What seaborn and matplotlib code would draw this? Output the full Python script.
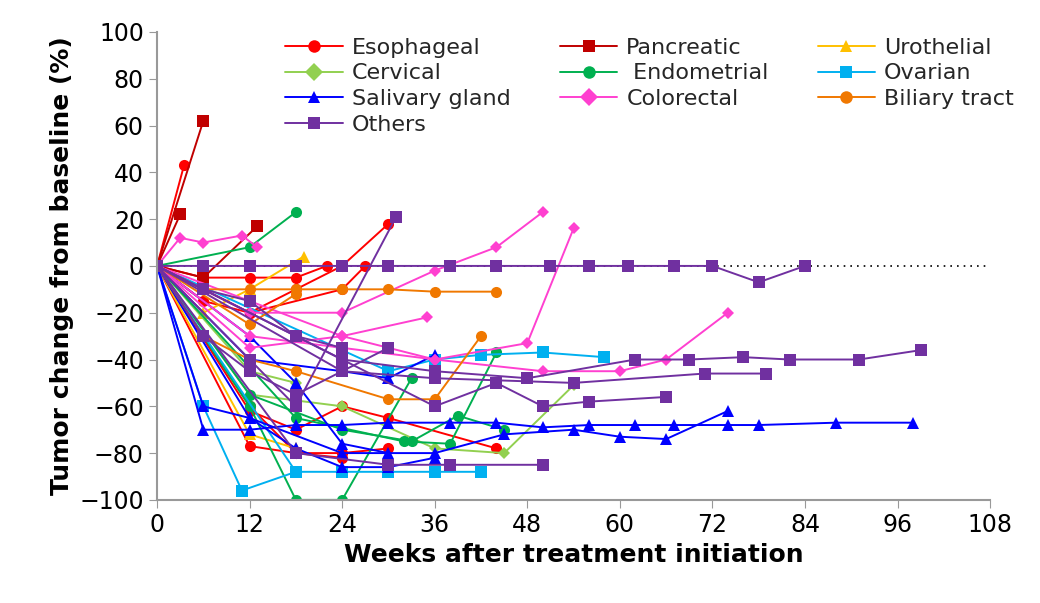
import matplotlib
matplotlib.use("Agg")
import matplotlib.pyplot as plt
import seaborn as sns
import pandas as pd
from matplotlib.lines import Line2D

categories = ["Esophageal", "Pancreatic", "Urothelial", "Cervical", "Endometrial",
              "Ovarian", "Salivary gland", "Colorectal", "Biliary tract", "Others"]
colors = {"Esophageal": "#ff0000", "Pancreatic": "#c00000", "Urothelial": "#ffc000",
          "Cervical": "#92d050", "Endometrial": "#00b050", "Ovarian": "#00b0f0",
          "Salivary gland": "#0000ff", "Colorectal": "#ff40d0", "Biliary tract": "#f07800",
          "Others": "#7030a0"}
markers = {"Esophageal": "o", "Pancreatic": "s", "Urothelial": "^", "Cervical": "D",
           "Endometrial": "o", "Ovarian": "s", "Salivary gland": "^", "Colorectal": "D",
           "Biliary tract": "o", "Others": "s"}

esophageal = [([0, 3.5], [0, 43]),
              ([0, 6, 12, 18, 22], [0, -5, -5, -5, 0]),
              ([0, 12, 18, 24, 30], [0, -20, -10, 0, 18]),
              ([0, 12, 18, 24, 30], [0, -60, -80, -80, -78]),
              ([0, 12, 18, 24, 30, 44], [0, -62, -70, -60, -65, -78]),
              ([0, 6, 12, 24, 27], [0, -15, -20, -10, 0]),
              ([0, 12, 18, 24], [0, -77, -80, -82])]
pancreatic = [([0, 6], [0, 62]), ([0, 3], [0, 22]), ([0, 6, 13], [0, -5, 17])]
urothelial = [([0, 6, 12, 19], [0, -20, -10, 4]), ([0, 12, 18], [0, -72, -78])]
cervical = [([0, 12, 24, 36, 45, 54], [0, -55, -60, -78, -80, -51]),
            ([0, 12, 18], [0, -45, -50])]
endometrial = [([0, 12, 18], [0, 8, 23]),
               ([0, 12, 18, 24, 33], [0, -60, -100, -100, -48]),
               ([0, 12, 24, 33, 39, 45], [0, -55, -70, -75, -64, -70]),
               ([0, 18, 32, 38, 44], [0, -65, -75, -76, -37])]
ovarian = [([0, 6, 11, 18], [0, -60, -96, -88]),
           ([0, 18, 24, 30, 36, 42], [0, -88, -88, -88, -88, -88]),
           ([0, 30, 36, 42, 50, 58], [0, -45, -40, -38, -37, -39])]
salivary = [([0, 6, 12, 18, 24, 30, 38, 44, 50, 56, 62, 67, 74, 78, 88, 98],
             [0, -70, -70, -68, -68, -67, -67, -67, -69, -68, -68, -68, -68, -68, -67, -67]),
            ([0, 12, 24, 36, 45, 54, 60, 66, 74], [0, -65, -80, -80, -72, -70, -73, -74, -62]),
            ([0, 6, 12, 18, 24, 30, 36], [0, -60, -65, -78, -86, -86, -82]),
            ([0, 12, 18, 24, 30], [0, -30, -50, -76, -80]),
            ([0, 12, 24, 30, 36], [0, -40, -45, -48, -38])]
colorectal = [([0, 3, 6, 11, 13], [0, 12, 10, 13, 8]),
              ([0, 12, 24, 36, 44, 50], [0, -20, -20, -2, 8, 23]),
              ([0, 12, 24, 36, 48, 54], [0, -30, -35, -40, -33, 16]),
              ([0, 24, 36, 50, 60, 66, 74], [0, -30, -40, -45, -45, -40, -20]),
              ([0, 12, 24, 35], [0, -35, -30, -22])]
biliary = [([0, 6, 12, 18, 24, 30, 36, 44], [0, -10, -10, -10, -10, -10, -11, -11]),
           ([0, 6, 12, 18, 30, 36, 42], [0, -30, -40, -45, -57, -57, -30]),
           ([0, 12, 18], [0, -25, -12])]
others = [([0, 6, 12, 18, 24, 30, 38, 44, 51, 56, 61, 67, 72, 78, 84],
           [0, 0, 0, 0, 0, 0, 0, 0, 0, 0, 0, 0, 0, -7, 0]),
          ([0, 12, 18, 31], [0, -40, -60, 21]),
          ([0, 24, 36, 48, 62, 69, 76, 82, 91, 99], [0, -40, -45, -48, -40, -40, -39, -40, -40, -36]),
          ([0, 24, 36, 54, 71, 79], [0, -45, -48, -50, -46, -46]),
          ([0, 36, 44, 50, 56, 66], [0, -60, -50, -60, -58, -56]),
          ([0, 18, 30, 38, 50], [0, -80, -85, -85, -85]),
          ([0, 6, 12, 18, 24], [0, -10, -15, -30, -35]),
          ([0, 6, 12, 18, 30], [0, -30, -45, -55, -35])]

series = {"Esophageal": esophageal, "Pancreatic": pancreatic, "Urothelial": urothelial,
          "Cervical": cervical, "Endometrial": endometrial, "Ovarian": ovarian,
          "Salivary gland": salivary, "Colorectal": colorectal, "Biliary tract": biliary,
          "Others": others}

fig = plt.figure(figsize=(10.4, 6.03), dpi=100)
ax = fig.add_axes([0.151, 0.171, 0.801, 0.776])
sns.set_style("white")

ax.axhline(0, color="black", ls=(0, (1, 3)), lw=1.2, zorder=0.5)
for cat in categories:
    for i, (w, v) in enumerate(series[cat]):
        df = pd.DataFrame({"week": w, "value": v})
        sns.lineplot(data=df, x="week", y="value", ax=ax, sort=False, color=colors[cat],
                     marker=markers[cat], markersize=8 if markers[cat] != "D" else 6,
                     markeredgewidth=0, lw=1.4, legend=False)

order = ["Esophageal", "Cervical", "Salivary gland", "Others", "Pancreatic",
         "Endometrial", "Colorectal", "Urothelial", "Ovarian", "Biliary tract"]
handles = [Line2D([], [], color=colors[c], marker=markers[c], markersize=9, markeredgewidth=0,
                  lw=1.4, label=(" " + c if c == "Endometrial" else c)) for c in order]
ax.legend(handles=handles, ncol=3, loc="upper left", bbox_to_anchor=(0.13, 1.03),
          frameon=False, fontsize=16, handlelength=2.6, columnspacing=2.2,
          labelspacing=0.25, handletextpad=0.4)

ax.set_xlim(0, 108)
ax.set_ylim(-100, 100)
ax.set_xticks(range(0, 109, 12))
ax.set_yticks(range(-100, 101, 20))
ax.tick_params(labelsize=17, length=6, direction="out", color="#999999")
for s in ["top", "right"]:
    ax.spines[s].set_visible(False)
for s in ["left", "bottom"]:
    ax.spines[s].set_color("#999999")
    ax.spines[s].set_linewidth(1.5)
ax.set_xlabel("Weeks after treatment initiation", fontsize=18, fontweight="bold")
ax.set_ylabel("Tumor change from baseline (%)", fontsize=18, fontweight="bold")
fig.savefig("out.png", dpi=100)
